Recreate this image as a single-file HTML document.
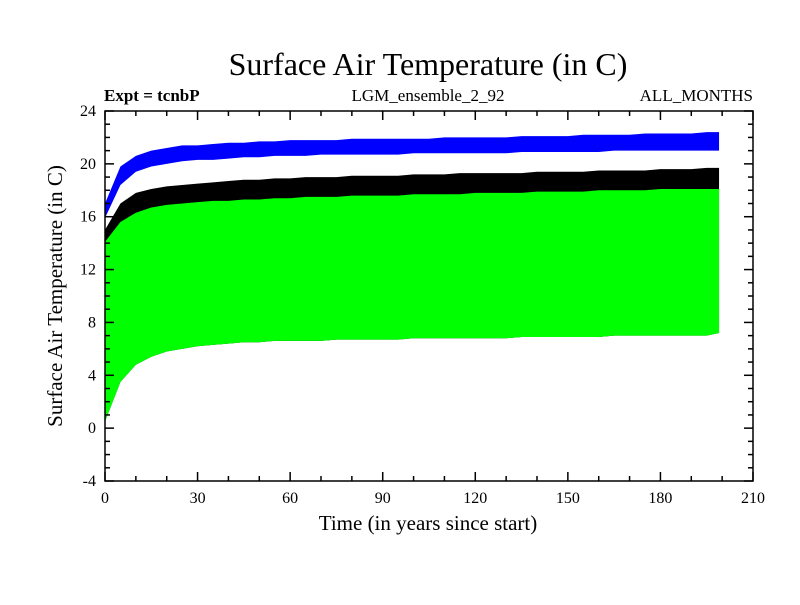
<!DOCTYPE html>
<html><head><meta charset="utf-8"><style>
body{margin:0;background:#fff}
svg text{font-family:"Liberation Serif",serif;fill:#000}
</style></head><body>
<svg id="chart" width="800" height="600">
<text x="428" y="75" font-size="32" text-anchor="middle">Surface Air Temperature (in C)</text>
<text x="104" y="101" font-size="17" font-weight="bold">Expt = tcnbP</text>
<text x="428" y="101" font-size="17" text-anchor="middle">LGM_ensemble_2_92</text>
<text x="753" y="101" font-size="17" text-anchor="end">ALL_MONTHS</text>
<text x="428" y="530" font-size="21" text-anchor="middle">Time (in years since start)</text>
<text transform="translate(62,296) rotate(-90)" font-size="21" text-anchor="middle">Surface Air Temperature (in C)</text>
<g id="series"></g>
<g id="axes"></g>
</svg>
<script>
const years=[0,5,10,15,20,25,30,35,40,45,50,55,60,65,70,75,80,85,90,95,100,105,110,115,120,125,130,135,140,145,150,155,160,165,170,175,180,185,190,195,199];
const blueHigh=[17,19.8,20.6,21,21.2,21.4,21.4,21.5,21.6,21.6,21.7,21.7,21.8,21.8,21.8,21.8,21.9,21.9,21.9,21.9,21.9,21.9,22,22,22,22,22,22.1,22.1,22.1,22.1,22.2,22.2,22.2,22.2,22.3,22.3,22.3,22.3,22.4,22.4];
const blueLow=[15.9,18.4,19.4,19.8,20,20.2,20.3,20.3,20.4,20.5,20.5,20.6,20.6,20.6,20.7,20.7,20.7,20.7,20.7,20.7,20.8,20.8,20.8,20.8,20.8,20.8,20.8,20.9,20.9,20.9,20.9,20.9,20.9,21,21,21,21,21,21,21,21];
const blackHigh=[15,17,17.8,18.1,18.3,18.4,18.5,18.6,18.7,18.8,18.8,18.9,18.9,19,19,19,19.1,19.1,19.1,19.1,19.2,19.2,19.2,19.3,19.3,19.3,19.3,19.3,19.4,19.4,19.4,19.4,19.5,19.5,19.5,19.5,19.6,19.6,19.6,19.7,19.7];
const greenHigh=[14.1,15.6,16.3,16.7,16.9,17,17.1,17.2,17.2,17.3,17.3,17.4,17.4,17.5,17.5,17.5,17.6,17.6,17.6,17.6,17.7,17.7,17.7,17.7,17.8,17.8,17.8,17.8,17.9,17.9,17.9,17.9,18,18,18,18,18.1,18.1,18.1,18.1,18.1];
const greenLow=[0.5,3.5,4.8,5.4,5.8,6,6.2,6.3,6.4,6.5,6.5,6.6,6.6,6.6,6.6,6.7,6.7,6.7,6.7,6.7,6.8,6.8,6.8,6.8,6.8,6.8,6.8,6.9,6.9,6.9,6.9,6.9,6.9,7,7,7,7,7,7,7,7.2];
const xTicks=[0,30,60,90,120,150,180,210];
const yTicks=[-4,0,4,8,12,16,20,24];
const X0=105,X1=753,Y0=481,Y1=111;
const xs=v=>X0+(v/210)*(X1-X0);
const ys=v=>Y0-((v+4)/28)*(Y0-Y1);
const NS="http://www.w3.org/2000/svg";
const sg=document.getElementById('series'),ag=document.getElementById('axes');
function band(hi,lo,color,name){
  let pts=years.map((y,i)=>xs(y)+','+ys(hi[i]));
  pts=pts.concat(years.slice().reverse().map((y,j)=>xs(y)+','+ys(lo[years.length-1-j])));
  const p=document.createElementNS(NS,'polygon');
  p.setAttribute('points',pts.join(' '));
  p.setAttribute('fill',color);
  
  
  sg.appendChild(p);
}
band(blueHigh,blueLow,'#0000ff','blue-series');
band(blackHigh,greenLow,'#000000','black-series');
band(greenHigh,greenLow,'#00ff00','green-series');
function line(x1,y1,x2,y2){const l=document.createElementNS(NS,'line');l.setAttribute('x1',x1);l.setAttribute('y1',y1);l.setAttribute('x2',x2);l.setAttribute('y2',y2);l.setAttribute('stroke','#000');l.setAttribute('stroke-width','1.5');ag.appendChild(l);return l;}
const fr=document.createElementNS(NS,'rect');
fr.setAttribute('x',X0);fr.setAttribute('y',Y1);fr.setAttribute('width',X1-X0);fr.setAttribute('height',Y0-Y1);
fr.setAttribute('fill','none');fr.setAttribute('stroke','#000');fr.setAttribute('stroke-width','1.5');


ag.appendChild(fr);
for(let v=0;v<=210;v+=10){const L=v%30===0?9:5;line(xs(v),Y0,xs(v),Y0-L);line(xs(v),Y1,xs(v),Y1+L);}
for(let v=-4;v<=24;v+=1){const L=v%4===0?9:5;line(X0,ys(v),X0+L,ys(v));line(X1,ys(v),X1-L,ys(v));}
xTicks.forEach(v=>{const t=document.createElementNS(NS,'text');t.setAttribute('x',xs(v));t.setAttribute('y',503);t.setAttribute('font-size','16');t.setAttribute('text-anchor','middle');t.textContent=v;


ag.appendChild(t);});
yTicks.forEach(v=>{const t=document.createElementNS(NS,'text');t.setAttribute('x',96);t.setAttribute('y',ys(v)+5);t.setAttribute('font-size','16');t.setAttribute('text-anchor','end');t.textContent=v;


ag.appendChild(t);});
</script>
</body></html>
